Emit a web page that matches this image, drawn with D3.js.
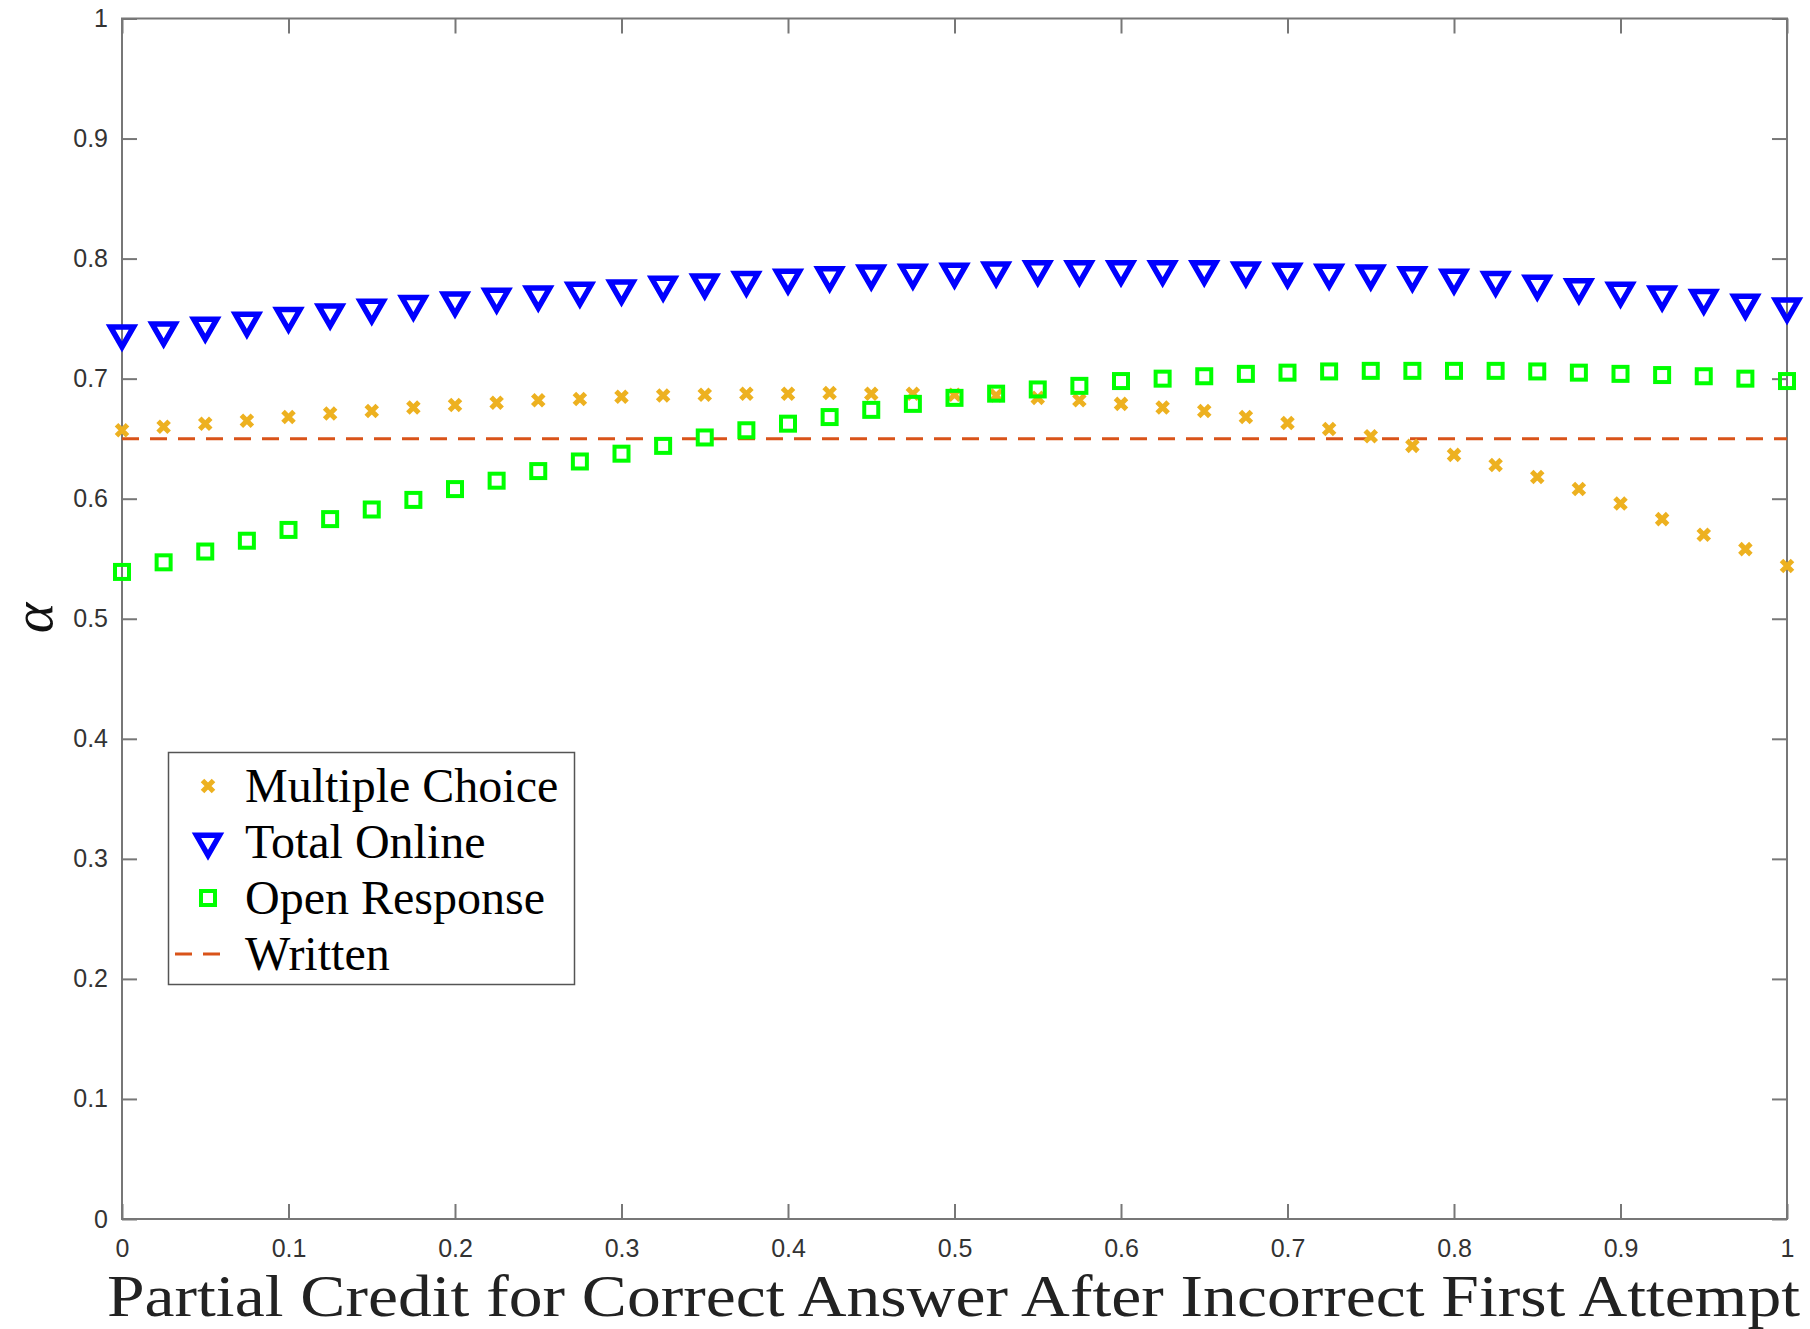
<!DOCTYPE html>
<html>
<head>
<meta charset="utf-8">
<script src="https://d3js.org/d3.v7.min.js"></script>
<style>
  body { margin: 0; background: #fff; }
</style>
</head>
<body>
<svg width="1810" height="1329"></svg>
<script>
// x values: partial credit 0 .. 1 in steps of 0.025
var credit = [0, 0.025, 0.05, 0.075, 0.1, 0.125, 0.15, 0.175, 0.2, 0.225,
  0.25, 0.275, 0.3, 0.325, 0.35, 0.375, 0.4, 0.425, 0.45, 0.475,
  0.5, 0.525, 0.55, 0.575, 0.6, 0.625, 0.65, 0.675, 0.7, 0.725,
  0.75, 0.775, 0.8, 0.825, 0.85, 0.875, 0.9, 0.925, 0.95, 0.975, 1];

var multipleChoice = [0.657, 0.660, 0.6625, 0.665, 0.668, 0.671, 0.673, 0.676, 0.678, 0.680,
  0.682, 0.683, 0.685, 0.686, 0.6865, 0.6875, 0.6875, 0.688, 0.6875, 0.6875,
  0.6865, 0.686, 0.684, 0.682, 0.679, 0.676, 0.673, 0.668, 0.663, 0.658,
  0.652, 0.644, 0.6365, 0.628, 0.618, 0.608, 0.596, 0.583, 0.570, 0.558, 0.544];

var totalOnline = [0.7375, 0.740, 0.744, 0.748, 0.752, 0.755, 0.759, 0.762, 0.765, 0.768,
  0.770, 0.773, 0.775, 0.778, 0.780, 0.782, 0.784, 0.786, 0.7875, 0.788,
  0.789, 0.790, 0.791, 0.791, 0.791, 0.791, 0.791, 0.790, 0.789, 0.788,
  0.7875, 0.786, 0.784, 0.782, 0.779, 0.776, 0.773, 0.770, 0.767, 0.763, 0.760];

var openResponse = [0.539, 0.547, 0.556, 0.565, 0.574, 0.583, 0.591, 0.599, 0.608, 0.615,
  0.623, 0.631, 0.6375, 0.644, 0.651, 0.657, 0.6625, 0.668, 0.674, 0.679,
  0.684, 0.6875, 0.691, 0.694, 0.698, 0.700, 0.702, 0.704, 0.705, 0.706,
  0.7065, 0.7065, 0.7065, 0.7065, 0.706, 0.705, 0.704, 0.703, 0.702, 0.700, 0.698];

var written = 0.65;

var xTicks = [0, 0.1, 0.2, 0.3, 0.4, 0.5, 0.6, 0.7, 0.8, 0.9, 1];
var yTicks = [0, 0.1, 0.2, 0.3, 0.4, 0.5, 0.6, 0.7, 0.8, 0.9, 1];
var legendNames = ["Multiple Choice", "Total Online", "Open Response", "Written"];

var svg = d3.select("svg");
var pLeft = 122, pRight = 1787, pTop = 18.5, pBottom = 1219;

var x = d3.scaleLinear().domain([0, 1]).range([pLeft, pRight]);
var y = d3.scaleLinear().domain([0, 1]).range([pBottom, pTop]);

var axisColor = "#777";
var tickLen = 15;

// box
svg.append("rect")
  .attr("x", pLeft).attr("y", pTop)
  .attr("width", pRight - pLeft).attr("height", pBottom - pTop)
  .attr("fill", "none").attr("stroke", axisColor).attr("stroke-width", 2);

// axes with inward ticks
var fmt = function(d) { return d === 0 || d === 1 ? String(d) : d3.format(".1f")(d); };

var gx = svg.append("g").attr("transform", "translate(0," + pBottom + ")")
  .call(d3.axisBottom(x).tickValues(xTicks).tickSize(-tickLen).tickPadding(20).tickFormat(fmt));
var gxTop = svg.append("g").attr("transform", "translate(0," + pTop + ")")
  .call(d3.axisTop(x).tickValues(xTicks).tickSize(-tickLen).tickFormat(""));
var gy = svg.append("g").attr("transform", "translate(" + pLeft + ",0)")
  .call(d3.axisLeft(y).tickValues(yTicks).tickSize(-tickLen).tickPadding(14).tickFormat(fmt));
var gyRight = svg.append("g").attr("transform", "translate(" + pRight + ",0)")
  .call(d3.axisRight(y).tickValues(yTicks).tickSize(-tickLen).tickFormat(""));

[gx, gxTop, gy, gyRight].forEach(function(g) {
  g.select(".domain").remove();
  g.selectAll(".tick line").attr("stroke", axisColor).attr("stroke-width", 2);
  g.selectAll(".tick text")
    .attr("fill", "#333")
    .style("font-family", "'Liberation Sans', Arial, sans-serif")
    .style("font-size", "25px");
});

// written reference line
svg.append("line")
  .attr("x1", x(0)).attr("x2", x(1))
  .attr("y1", y(written)).attr("y2", y(written))
  .attr("stroke", "#D95319").attr("stroke-width", 3)
  .attr("stroke-dasharray", "17,11");

var pts = function(vals) { return credit.map(function(c, i) { return {x: c, y: vals[i]}; }); };

// marker drawers
function drawCross(sel, s) {
  sel.append("path")
    .attr("d", "M" + (-s) + "," + (-s) + "L" + s + "," + s + "M" + (-s) + "," + s + "L" + s + "," + (-s))
    .attr("stroke", "#EDB120").attr("stroke-width", 5).attr("fill", "none");
}
function drawTri(sel, w) {
  var h = w * 0.87;
  sel.append("path")
    .attr("d", "M" + (-w / 2) + "," + (-h / 3) + "L" + (w / 2) + "," + (-h / 3) + "L0," + (2 * h / 3) + "Z")
    .attr("stroke", "#0000FF").attr("stroke-width", 5.5).attr("fill", "none")
    .attr("stroke-linejoin", "miter");
}
function drawSquare(sel, s) {
  sel.append("rect")
    .attr("x", -s / 2).attr("y", -s / 2).attr("width", s).attr("height", s)
    .attr("stroke", "#00FF00").attr("stroke-width", 4).attr("fill", "none");
}

svg.append("g").selectAll("g").data(pts(multipleChoice)).enter().append("g")
  .attr("transform", function(d) { return "translate(" + x(d.x) + "," + y(d.y) + ")"; })
  .each(function() { drawCross(d3.select(this), 5.5); });

svg.append("g").selectAll("g").data(pts(totalOnline)).enter().append("g")
  .attr("transform", function(d) { return "translate(" + x(d.x) + "," + y(d.y) + ")"; })
  .each(function() { drawTri(d3.select(this), 23); });

svg.append("g").selectAll("g").data(pts(openResponse)).enter().append("g")
  .attr("transform", function(d) { return "translate(" + x(d.x) + "," + y(d.y) + ")"; })
  .each(function() { drawSquare(d3.select(this), 14); });

// legend
var lg = svg.append("g");
lg.append("rect")
  .attr("x", 168.5).attr("y", 752.5).attr("width", 406).attr("height", 232)
  .attr("fill", "#fff").attr("stroke", "#555").attr("stroke-width", 1.5);

var rowY = [786, 842, 898, 954];
legendNames.forEach(function(name, i) {
  var row = lg.append("g").attr("transform", "translate(208," + rowY[i] + ")");
  if (i === 0) drawCross(row, 5.5);
  if (i === 1) drawTri(row, 23);
  if (i === 2) drawSquare(row, 14);
  if (i === 3) {
    row.append("line").attr("x1", -33).attr("x2", 22).attr("y1", 0).attr("y2", 0)
      .attr("stroke", "#D95319").attr("stroke-width", 3).attr("stroke-dasharray", "17,11");
  }
  lg.append("text")
    .attr("x", 245).attr("y", rowY[i] + 16)
    .style("font-family", "'Liberation Serif', 'Times New Roman', serif")
    .style("font-size", "48px")
    .attr("fill", "#000")
    .text(name);
});

// axis labels
svg.append("text")
  .attr("x", 107).attr("y", 1316)
  .attr("textLength", 1693).attr("lengthAdjust", "spacingAndGlyphs")
  .style("font-family", "'Liberation Serif', 'Times New Roman', serif")
  .style("font-size", "60px")
  .attr("fill", "#222")
  .text("Partial Credit for Correct Answer After Incorrect First Attempt");

svg.append("text")
  .attr("transform", "translate(52,618) rotate(-90)")
  .attr("text-anchor", "middle")
  .style("font-family", "'Liberation Serif', serif")
  .style("font-style", "italic")
  .style("font-size", "58px")
  .attr("fill", "#111")
  .text("α");
</script>
</body>
</html>
